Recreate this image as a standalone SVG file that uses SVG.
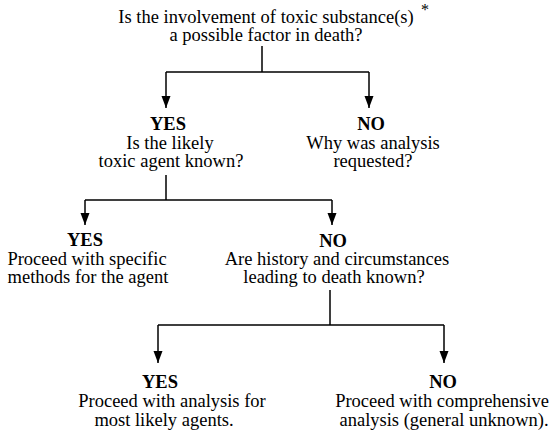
<svg xmlns="http://www.w3.org/2000/svg" width="552" height="431" viewBox="0 0 552 431">
<defs>
<marker id="ah" markerWidth="12" markerHeight="10" refX="12" refY="5" orient="auto" markerUnits="userSpaceOnUse">
<path d="M0,0.5 L12,5 L0,9.5 Z" fill="#000"/>
</marker>
<style>
text{font-family:"Liberation Serif","Times New Roman",serif;font-size:18.5px;fill:#000;text-anchor:middle}
.b{font-weight:bold}
.c{fill:none;stroke:#000;stroke-width:1.5}
</style>
</defs>
<rect width="552" height="431" fill="#fff"/>
<g id="connectors">
<path class="c" d="M262,46 V72 M166,72 H369"/>
<path class="c" d="M166,72 V108" marker-end="url(#ah)"/>
<path class="c" d="M369,72 V108" marker-end="url(#ah)"/>
<path class="c" d="M166,175 V200 M85,200 H332"/>
<path class="c" d="M85,200 V225" marker-end="url(#ah)"/>
<path class="c" d="M332,200 V225" marker-end="url(#ah)"/>
<path class="c" d="M330,290 V325 M158,325 H444"/>
<path class="c" d="M158,325 V363" marker-end="url(#ah)"/>
<path class="c" d="M444,325 V363" marker-end="url(#ah)"/>
</g>
<g id="q1">
<text x="266" y="23">Is the involvement of toxic substance(s)</text>
<text x="266" y="41">a possible factor in death?</text>
<text x="425" y="15" style="font-size:16px">*</text>
</g>
<g id="yes1">
<text class="b" x="168" y="130">YES</text>
<text x="170" y="149">Is the likely</text>
<text x="171" y="167">toxic agent known?</text>
</g>
<g id="no1">
<text class="b" x="371" y="130">NO</text>
<text x="373" y="149">Why was analysis</text>
<text x="373" y="167">requested?</text>
</g>
<g id="yes2">
<text class="b" x="85" y="246">YES</text>
<text x="87" y="265">Proceed with specific</text>
<text x="88" y="283">methods for the agent</text>
</g>
<g id="no2">
<text class="b" x="333" y="247">NO</text>
<text x="337" y="265">Are history and circumstances</text>
<text x="334" y="283">leading to death known?</text>
</g>
<g id="yes3">
<text class="b" x="160" y="388">YES</text>
<text x="172" y="407">Proceed with analysis for</text>
<text x="164" y="426">most likely agents.</text>
</g>
<g id="no3">
<text class="b" x="443" y="388">NO</text>
<text x="442" y="407">Proceed with comprehensive</text>
<text x="444" y="426">analysis (general unknown).</text>
</g>
</svg>
